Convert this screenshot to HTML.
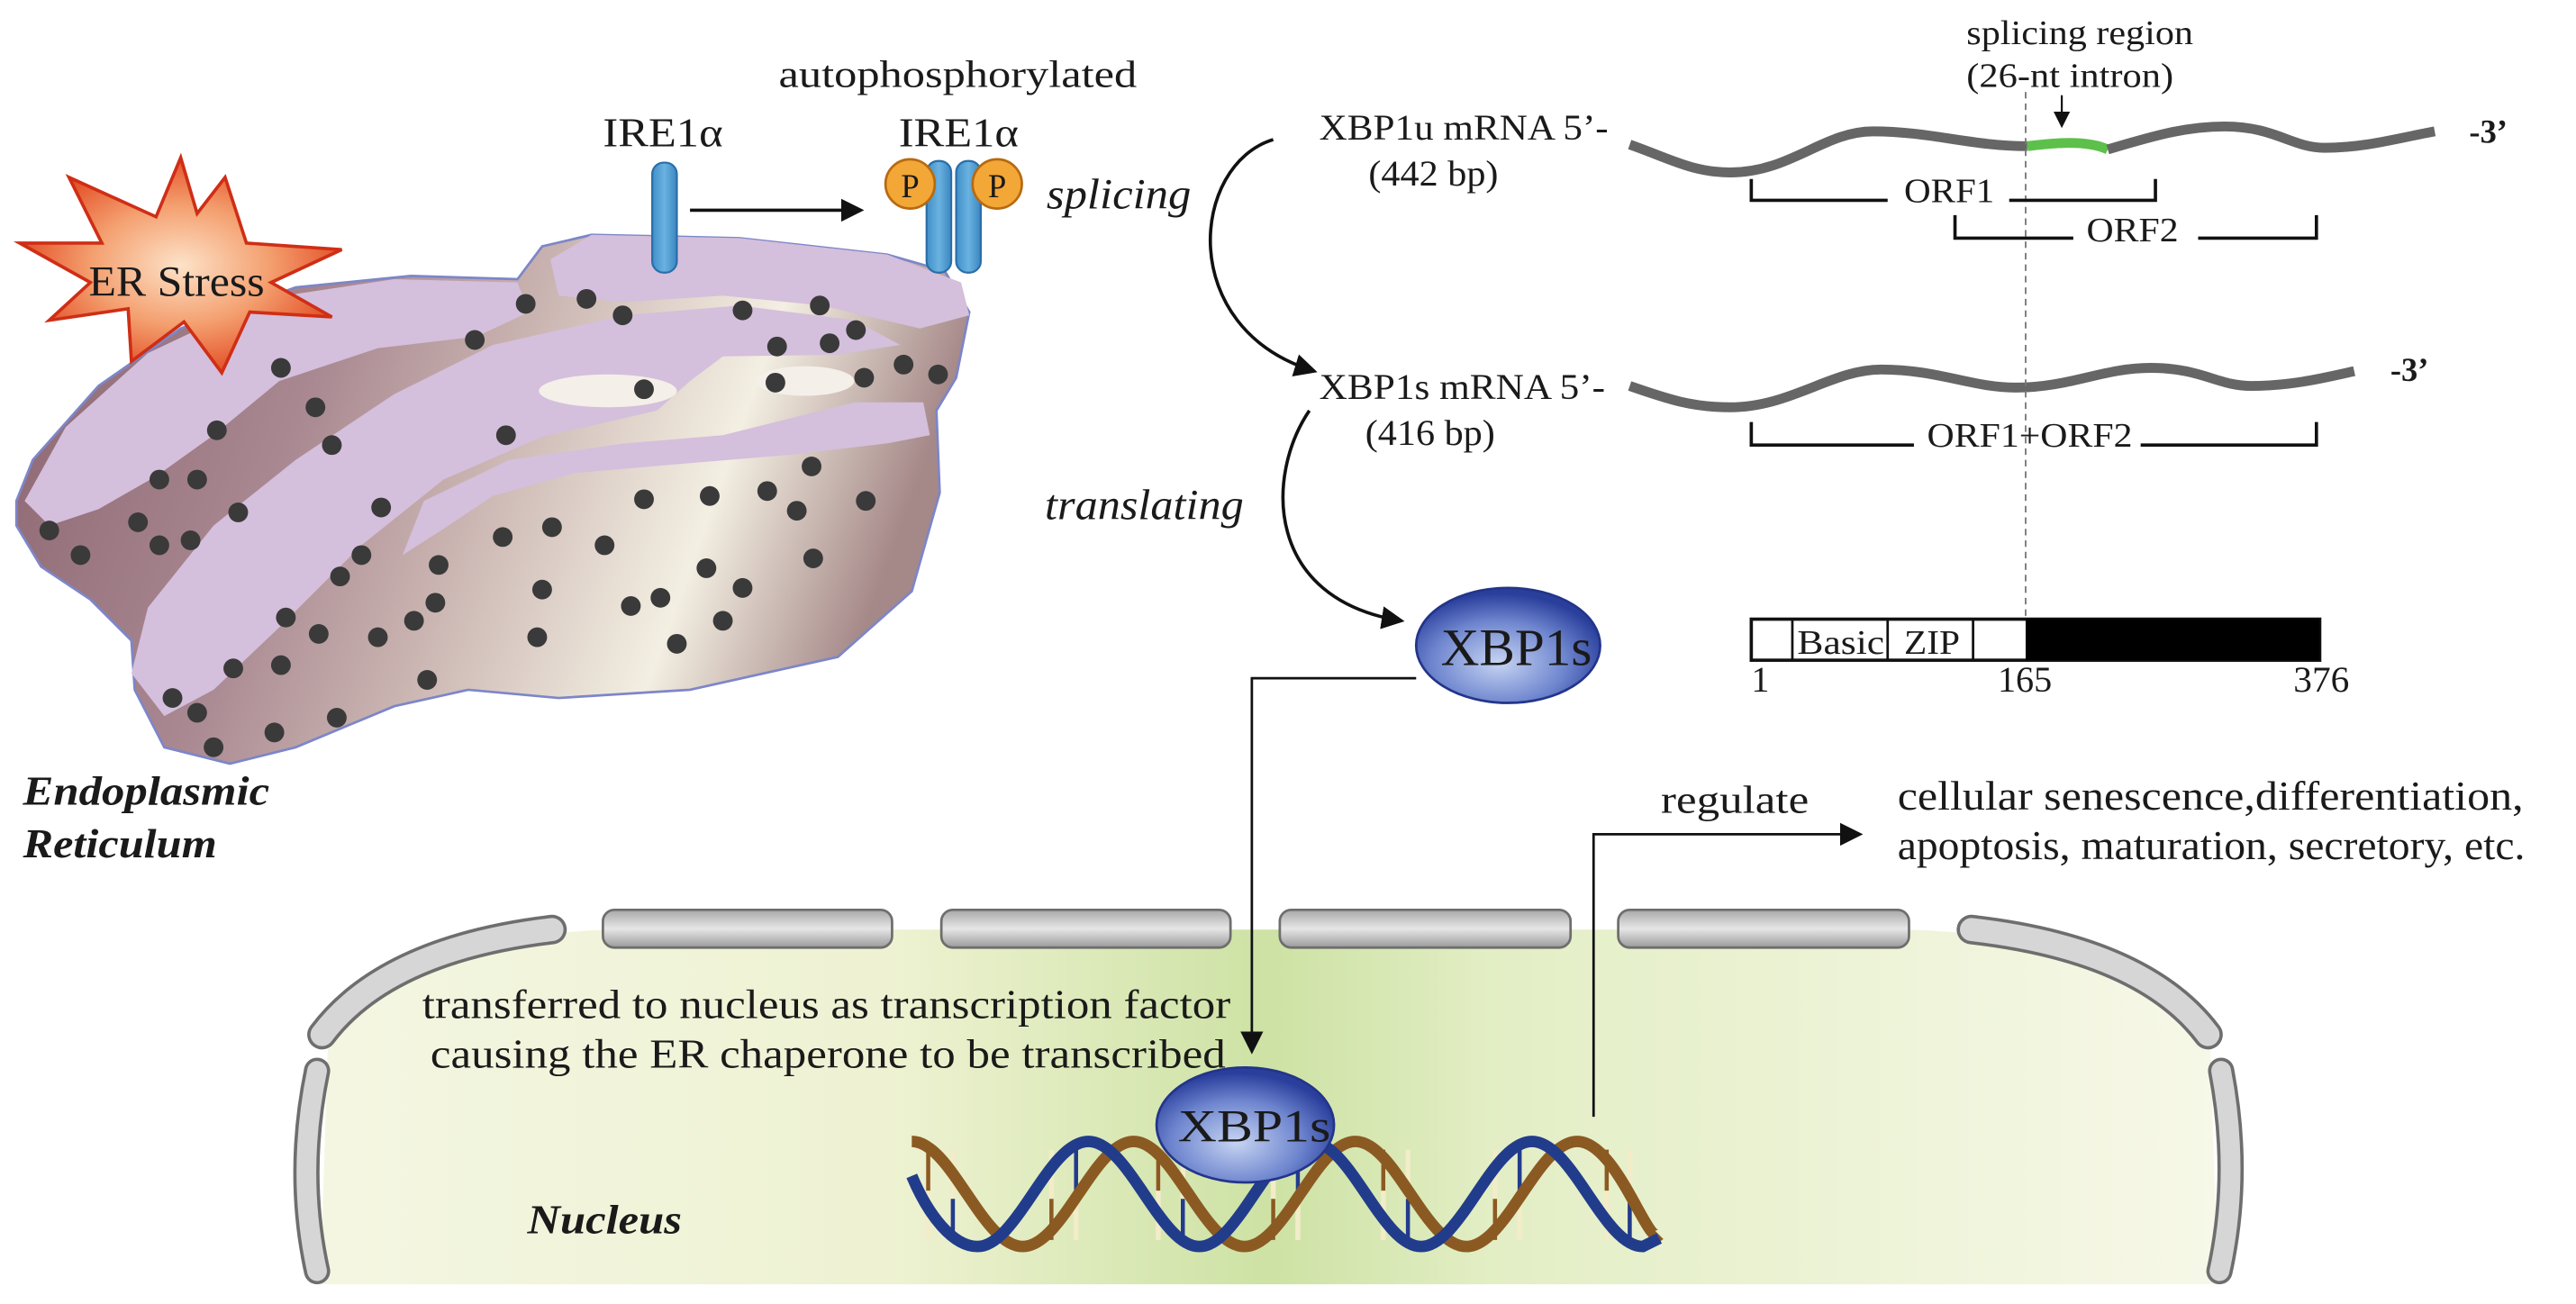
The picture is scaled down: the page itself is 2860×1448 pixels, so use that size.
<!DOCTYPE html>
<html><head><meta charset="utf-8"><style>
html,body{margin:0;padding:0;background:#fff;}
svg{display:block;}
text{font-family:"Liberation Serif",serif;fill:#1a1a1a;}
</style></head><body>
<svg width="2860" height="1448" viewBox="0 0 1568 794" preserveAspectRatio="none" xmlns="http://www.w3.org/2000/svg">
<defs>
<radialGradient id="star" cx="50%" cy="50%" r="55%"><stop offset="0" stop-color="#fde2c8"/><stop offset="0.5" stop-color="#f4a070"/><stop offset="1" stop-color="#e0421a"/></radialGradient>
<linearGradient id="side" x1="0" y1="0" x2="1" y2="0.2"><stop offset="0" stop-color="#8a6470"/><stop offset="0.35" stop-color="#a98891"/><stop offset="0.55" stop-color="#c9b3b0"/><stop offset="0.8" stop-color="#f3efe2"/><stop offset="1" stop-color="#a58888"/></linearGradient>
<radialGradient id="xbp" cx="45%" cy="65%" r="60%"><stop offset="0" stop-color="#c6d4f2"/><stop offset="0.6" stop-color="#6f86cf"/><stop offset="1" stop-color="#2a3f9c"/></radialGradient>
<linearGradient id="nuc" x1="0" y1="0" x2="1" y2="0"><stop offset="0" stop-color="#f4f6e2"/><stop offset="0.3" stop-color="#eef2d2"/><stop offset="0.5" stop-color="#cde2a4"/><stop offset="0.62" stop-color="#e3eec5"/><stop offset="1" stop-color="#f7f8e8"/></linearGradient>
<linearGradient id="pore" x1="0" y1="0" x2="0" y2="1"><stop offset="0" stop-color="#a8a8a8"/><stop offset="0.5" stop-color="#e6e6e6"/><stop offset="1" stop-color="#9a9a9a"/></linearGradient>
<linearGradient id="rod" x1="0" y1="0" x2="1" y2="0"><stop offset="0" stop-color="#3f8fc8"/><stop offset="0.5" stop-color="#6ab2e0"/><stop offset="1" stop-color="#3a86c0"/></linearGradient>
<marker id="ah" markerWidth="10" markerHeight="10" refX="8" refY="5" orient="auto" markerUnits="userSpaceOnUse"><path d="M0,0 L10,5 L0,10 Z" fill="#111"/></marker>
<marker id="ah2" markerWidth="14" markerHeight="14" refX="12" refY="7" orient="auto" markerUnits="userSpaceOnUse"><path d="M0,0 L14,7 L0,14 Z" fill="#111"/></marker>
</defs>

<!-- ER -->
<path d="M10,305 L20,280 L60,235 L110,200 L180,175 L250,168 L315,170 L330,150 L360,143 L450,145 L540,155 L575,165 L590,190 L582,230 L570,250 L572,300 L555,360 L510,400 L420,420 L340,425 L285,420 L240,430 L180,455 L140,465 L100,455 L82,420 L80,390 L55,365 L25,345 L10,320 Z" fill="url(#side)" stroke="#7d86c8" stroke-width="1.5"/>
<path d="M15,305 L40,260 L90,215 L160,182 L240,170 L315,172 L322,190 L290,205 L230,212 L170,232 L130,265 L95,290 L60,310 L30,320 Z" fill="#d4bfdc"/>
<path d="M335,158 L360,143 L450,145 L540,155 L585,172 L590,192 L560,200 L500,186 L440,180 L380,184 L340,180 Z" fill="#d4bfdc"/>
<path d="M80,410 L90,370 L130,320 L180,280 L240,240 L300,210 L380,192 L450,186 L520,195 L548,210 L510,216 L440,217 L420,232 L400,250 L330,266 L270,292 L220,332 L170,382 L130,420 L100,436 Z" fill="#d4bfdc"/>
<ellipse cx="370" cy="238" rx="42" ry="10" fill="#f4efe8"/>
<ellipse cx="490" cy="232" rx="30" ry="9" fill="#f4efe8"/>
<path d="M245,338 L258,305 L310,280 L380,270 L440,265 L520,245 L562,245 L566,265 L540,270 L480,277 L420,282 L350,288 L300,302 L270,322 Z" fill="#d4bfdc"/>
<g fill="#3a3a3a">
<circle cx="320" cy="185" r="6"/><circle cx="357" cy="182" r="6"/><circle cx="379" cy="192" r="6"/><circle cx="289" cy="207" r="6"/><circle cx="452" cy="189" r="6"/><circle cx="499" cy="186" r="6"/><circle cx="521" cy="201" r="6"/><circle cx="473" cy="211" r="6"/><circle cx="505" cy="209" r="6"/><circle cx="550" cy="222" r="6"/><circle cx="571" cy="228" r="6"/><circle cx="472" cy="233" r="6"/><circle cx="526" cy="230" r="6"/><circle cx="392" cy="237" r="6"/><circle cx="308" cy="265" r="6"/><circle cx="192" cy="248" r="6"/><circle cx="202" cy="271" r="6"/><circle cx="132" cy="262" r="6"/><circle cx="97" cy="292" r="6"/><circle cx="120" cy="292" r="6"/><circle cx="84" cy="318" r="6"/><circle cx="97" cy="332" r="6"/><circle cx="116" cy="329" r="6"/><circle cx="30" cy="323" r="6"/><circle cx="49" cy="338" r="6"/><circle cx="145" cy="312" r="6"/><circle cx="232" cy="309" r="6"/><circle cx="220" cy="338" r="6"/><circle cx="207" cy="351" r="6"/><circle cx="267" cy="344" r="6"/><circle cx="265" cy="367" r="6"/><circle cx="174" cy="376" r="6"/><circle cx="194" cy="386" r="6"/><circle cx="230" cy="388" r="6"/><circle cx="252" cy="378" r="6"/><circle cx="142" cy="407" r="6"/><circle cx="171" cy="405" r="6"/><circle cx="260" cy="414" r="6"/><circle cx="105" cy="425" r="6"/><circle cx="120" cy="434" r="6"/><circle cx="205" cy="437" r="6"/><circle cx="167" cy="446" r="6"/><circle cx="130" cy="455" r="6"/><circle cx="306" cy="327" r="6"/><circle cx="336" cy="321" r="6"/><circle cx="368" cy="332" r="6"/><circle cx="392" cy="304" r="6"/><circle cx="432" cy="302" r="6"/><circle cx="467" cy="299" r="6"/><circle cx="485" cy="311" r="6"/><circle cx="527" cy="305" r="6"/><circle cx="494" cy="284" r="6"/><circle cx="495" cy="340" r="6"/><circle cx="430" cy="346" r="6"/><circle cx="452" cy="358" r="6"/><circle cx="402" cy="364" r="6"/><circle cx="384" cy="369" r="6"/><circle cx="330" cy="359" r="6"/><circle cx="440" cy="378" r="6"/><circle cx="327" cy="388" r="6"/><circle cx="412" cy="392" r="6"/><circle cx="171" cy="224" r="6"/>
</g>

<!-- ER Stress star -->
<polygon points="137,108 150,148 208,152 165,172 202,193 152,190 135,227 112,196 80,220 78,188 30,195 55,172 12,148 62,148 42,108 95,132 110,96 120,130" fill="url(#star)" stroke="#cf2e16" stroke-width="2"/>
<text x="54" y="180" font-size="26" textLength="107" lengthAdjust="spacingAndGlyphs">ER Stress</text>

<!-- IRE1 -->
<text x="474" y="53" font-size="23" textLength="218" lengthAdjust="spacingAndGlyphs">autophosphorylated</text>
<text x="367" y="89" font-size="25" textLength="73" lengthAdjust="spacingAndGlyphs">IRE1α</text>
<text x="547" y="89" font-size="25" textLength="73" lengthAdjust="spacingAndGlyphs">IRE1α</text>
<rect x="397" y="99" width="15" height="67" rx="7" fill="url(#rod)" stroke="#2a6ea8" stroke-width="1.2"/>
<rect x="564" y="98" width="15" height="68" rx="7" fill="url(#rod)" stroke="#2a6ea8" stroke-width="1.2"/>
<rect x="582" y="98" width="15" height="68" rx="7" fill="url(#rod)" stroke="#2a6ea8" stroke-width="1.2"/>
<circle cx="554" cy="112" r="15" fill="#f2a737" stroke="#b86a10" stroke-width="1.5"/>
<circle cx="607" cy="112" r="15" fill="#f2a737" stroke="#b86a10" stroke-width="1.5"/>
<text x="554" y="120" font-size="20" text-anchor="middle">P</text>
<text x="607" y="120" font-size="20" text-anchor="middle">P</text>
<line x1="420" y1="128" x2="524" y2="128" stroke="#111" stroke-width="2" marker-end="url(#ah2)"/>
<text x="637" y="127" font-size="26" font-style="italic" textLength="88" lengthAdjust="spacingAndGlyphs">splicing</text>

<!-- curved arrows -->
<path d="M775,85 C725,100 715,200 800,226" fill="none" stroke="#111" stroke-width="2" marker-end="url(#ah2)"/>
<path d="M797,250 C770,290 770,365 853,378" fill="none" stroke="#111" stroke-width="2" marker-end="url(#ah2)"/>
<text x="636" y="316" font-size="26" font-style="italic" textLength="121" lengthAdjust="spacingAndGlyphs">translating</text>

<!-- mRNA -->
<text x="803" y="85" font-size="22" textLength="176" lengthAdjust="spacingAndGlyphs">XBP1u mRNA  5’-</text>
<text x="833" y="113" font-size="22" textLength="79" lengthAdjust="spacingAndGlyphs">(442 bp)</text>
<text x="803" y="243" font-size="22" textLength="174" lengthAdjust="spacingAndGlyphs">XBP1s mRNA  5’-</text>
<text x="831" y="271" font-size="22" textLength="79" lengthAdjust="spacingAndGlyphs">(416 bp)</text>
<path d="M992,88 C1015,96 1030,105 1053,105 C1090,105 1110,80 1140,80 C1175,80 1200,89 1234,89" fill="none" stroke="#666" stroke-width="6"/>
<path d="M1234,89 C1250,87 1270,85 1283,91" fill="none" stroke="#5dc04a" stroke-width="6"/>
<path d="M1283,91 C1310,83 1330,77 1354,77 C1385,77 1395,90 1415,90 C1440,90 1460,84 1482,80" fill="none" stroke="#666" stroke-width="6"/>
<text x="1503" y="87" font-size="20" font-weight="bold">-3’</text>
<path d="M992,235 C1015,243 1030,248 1053,248 C1090,248 1115,225 1145,225 C1180,225 1200,236 1227,236 C1260,236 1280,224 1309,224 C1340,224 1350,235 1370,235 C1395,235 1415,230 1433,226" fill="none" stroke="#666" stroke-width="6"/>
<text x="1455" y="232" font-size="20" font-weight="bold">-3’</text>

<text x="1197" y="27" font-size="21" textLength="138" lengthAdjust="spacingAndGlyphs">splicing region</text>
<text x="1197" y="53" font-size="21" textLength="126" lengthAdjust="spacingAndGlyphs">(26-nt intron)</text>
<line x1="1255" y1="58" x2="1255" y2="76" stroke="#111" stroke-width="1.2" marker-end="url(#ah)"/>
<line x1="1233" y1="56" x2="1233" y2="376" stroke="#777" stroke-width="1" stroke-dasharray="4,3"/>

<g fill="none" stroke="#111" stroke-width="2">
<path d="M1066,109 L1066,122 L1149,122 M1223,122 L1312,122 L1312,109"/>
<path d="M1190,131 L1190,145 L1262,145 M1338,145 L1410,145 L1410,131"/>
<path d="M1066,257 L1066,271 L1165,271 M1303,271 L1410,271 L1410,257"/>
</g>
<text x="1159" y="123" font-size="21" textLength="55" lengthAdjust="spacingAndGlyphs">ORF1</text>
<text x="1270" y="147" font-size="21" textLength="56" lengthAdjust="spacingAndGlyphs">ORF2</text>
<text x="1173" y="272" font-size="21" textLength="125" lengthAdjust="spacingAndGlyphs">ORF1+ORF2</text>

<!-- protein bar -->
<rect x="1066" y="377" width="346" height="25" fill="#fff" stroke="#111" stroke-width="2"/>
<rect x="1233" y="377" width="179" height="25" fill="#000"/>
<line x1="1091" y1="377" x2="1091" y2="402" stroke="#111" stroke-width="1.5"/>
<line x1="1149" y1="377" x2="1149" y2="402" stroke="#111" stroke-width="1.5"/>
<line x1="1201" y1="377" x2="1201" y2="402" stroke="#111" stroke-width="1.5"/>
<text x="1094" y="398" font-size="21" textLength="53" lengthAdjust="spacingAndGlyphs">Basic</text>
<text x="1159" y="398" font-size="21" textLength="34" lengthAdjust="spacingAndGlyphs">ZIP</text>
<text x="1066" y="421" font-size="22">1</text>
<text x="1216" y="421" font-size="22" textLength="33" lengthAdjust="spacingAndGlyphs">165</text>
<text x="1396" y="421" font-size="22" textLength="34" lengthAdjust="spacingAndGlyphs">376</text>

<!-- XBP1s protein -->
<ellipse cx="918" cy="393" rx="56" ry="35" fill="url(#xbp)" stroke="#23358a" stroke-width="1.5"/>
<text x="877" y="405" font-size="32" textLength="92" lengthAdjust="spacingAndGlyphs">XBP1s</text>

<!-- ER label -->
<text x="14" y="490" font-size="25" font-weight="bold" font-style="italic" textLength="150" lengthAdjust="spacingAndGlyphs">Endoplasmic</text>
<text x="14" y="522" font-size="25" font-weight="bold" font-style="italic" textLength="118" lengthAdjust="spacingAndGlyphs">Reticulum</text>

<!-- regulate text -->
<text x="1011" y="495" font-size="24" textLength="90" lengthAdjust="spacingAndGlyphs">regulate</text>
<text x="1155" y="493" font-size="25" textLength="381" lengthAdjust="spacingAndGlyphs">cellular senescence,differentiation,</text>
<text x="1155" y="523" font-size="25" textLength="382" lengthAdjust="spacingAndGlyphs">apoptosis, maturation, secretory, etc.</text>

<!-- nucleus -->
<path d="M200,622 Q260,570 370,566 L1160,566 Q1290,570 1345,625 L1350,782 L195,782 Z" fill="url(#nuc)"/>
<g fill="url(#pore)" stroke="#6e6e6e" stroke-width="1.5">
<rect x="367" y="554" width="176" height="23" rx="7"/>
<rect x="573" y="554" width="176" height="23" rx="7"/>
<rect x="779" y="554" width="177" height="23" rx="7"/>
<rect x="985" y="554" width="177" height="23" rx="7"/>
</g>
<g fill="none" stroke-linecap="round">
<path d="M336,566 Q235,578 196,630" stroke="#6e6e6e" stroke-width="18"/>
<path d="M336,566 Q235,578 196,630" stroke="#d6d6d6" stroke-width="14"/>
<path d="M193,652 Q180,715 193,774" stroke="#6e6e6e" stroke-width="16"/>
<path d="M193,652 Q180,715 193,774" stroke="#d6d6d6" stroke-width="12"/>
<path d="M1200,566 Q1305,578 1344,630" stroke="#6e6e6e" stroke-width="18"/>
<path d="M1200,566 Q1305,578 1344,630" stroke="#d6d6d6" stroke-width="14"/>
<path d="M1352,652 Q1364,715 1351,774" stroke="#6e6e6e" stroke-width="16"/>
<path d="M1352,652 Q1364,715 1351,774" stroke="#d6d6d6" stroke-width="12"/>
</g>

<!-- connectors over nucleus -->
<path d="M862,413 L762,413 L762,640" fill="none" stroke="#111" stroke-width="1.5" marker-end="url(#ah2)"/>
<path d="M970,680 L970,508 L1132,508" fill="none" stroke="#111" stroke-width="1.5" marker-end="url(#ah2)"/>

<text x="257" y="620" font-size="25" textLength="492" lengthAdjust="spacingAndGlyphs">transferred to nucleus as transcription factor</text>
<text x="262" y="650" font-size="25" textLength="484" lengthAdjust="spacingAndGlyphs">causing the ER chaperone to be transcribed</text>
<text x="321" y="751" font-size="25" font-weight="bold" font-style="italic" textLength="94" lengthAdjust="spacingAndGlyphs">Nucleus</text>

<!-- DNA -->
<g stroke-width="3">
<g stroke="#f2ecc8">
<line x1="565" y1="700" x2="565" y2="755"/><line x1="580" y1="700" x2="580" y2="755"/><line x1="640" y1="700" x2="640" y2="755"/><line x1="655" y1="700" x2="655" y2="755"/><line x1="705" y1="700" x2="705" y2="755"/><line x1="720" y1="700" x2="720" y2="755"/><line x1="775" y1="700" x2="775" y2="755"/><line x1="790" y1="700" x2="790" y2="755"/><line x1="842" y1="700" x2="842" y2="755"/><line x1="857" y1="700" x2="857" y2="755"/><line x1="910" y1="700" x2="910" y2="755"/><line x1="925" y1="700" x2="925" y2="755"/><line x1="978" y1="700" x2="978" y2="755"/><line x1="992" y1="700" x2="992" y2="755"/>
</g>
<g stroke="#8b5a22" stroke-width="2.5">
<line x1="565" y1="700" x2="565" y2="725"/><line x1="640" y1="730" x2="640" y2="755"/><line x1="705" y1="700" x2="705" y2="725"/><line x1="775" y1="730" x2="775" y2="755"/><line x1="842" y1="700" x2="842" y2="725"/><line x1="910" y1="730" x2="910" y2="755"/><line x1="978" y1="700" x2="978" y2="725"/>
</g>
<g stroke="#223c8c" stroke-width="2.5">
<line x1="580" y1="730" x2="580" y2="755"/><line x1="655" y1="700" x2="655" y2="725"/><line x1="720" y1="730" x2="720" y2="755"/><line x1="790" y1="700" x2="790" y2="725"/><line x1="857" y1="730" x2="857" y2="755"/><line x1="925" y1="700" x2="925" y2="725"/><line x1="992" y1="730" x2="992" y2="755"/>
</g>
</g>
<path d="M555,695 C579,695 598,759 622.5,759 C647,759 666,695 690,695 C714,695 733,759 757.5,759 C782,759 801,695 825,695 C849,695 868,759 892.5,759 C917,759 936,695 960,695 C984,695 1003,759 1010,752" fill="none" stroke="#8b5a22" stroke-width="7"/>
<path d="M555,716 C565,740 580,759 595,759 C619,759 638,695 662.5,695 C687,695 706,759 730,759 C754,759 773,695 797.5,695 C822,695 841,759 865,759 C889,759 908,695 932.5,695 C957,695 976,759 1000,759 L1010,754" fill="none" stroke="#223c8c" stroke-width="7"/>
<ellipse cx="758" cy="685" rx="54" ry="35" fill="url(#xbp)" stroke="#23358a" stroke-width="1.5"/>
<text x="717" y="695" font-size="28" textLength="93" lengthAdjust="spacingAndGlyphs">XBP1s</text>
</svg>
</body></html>
